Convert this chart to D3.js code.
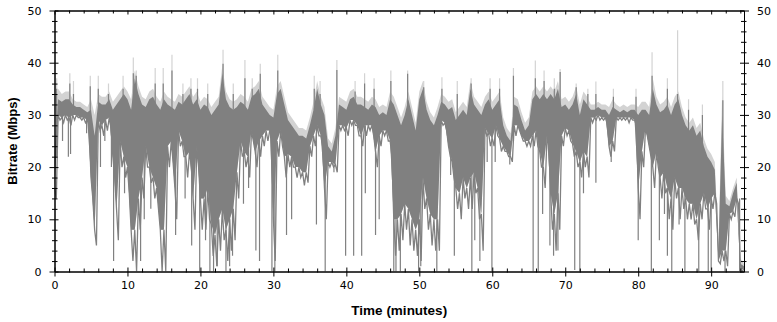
<!DOCTYPE html>
<html>
<head>
<meta charset="utf-8">
<script src="https://cdnjs.cloudflare.com/ajax/libs/d3/7.8.5/d3.min.js"></script>
<style>
body { margin: 0; background: #fff; }
</style>
</head>
<body>
<div id="chart"></div>
<script>
var step = 0.5
// top of the dark trace
var darkHi = [
  22, 33, 32.5, 33, 33, 32, 31.5, 31.5, 31, 30.5,
  31, 26, 32.5, 32, 32, 33, 31, 32, 33, 34,
  33, 31, 37, 34, 32, 31.5, 33, 33.5, 32, 31,
  33, 32, 31.5, 31, 32.5, 32, 33, 34, 32, 33,
  31, 32, 31.5, 30, 31, 32, 38, 33, 31.5, 31,
  31.5, 32.5, 32, 31, 33.5, 34, 35, 32, 31, 30,
  29.5, 34, 35, 32, 29, 28, 27, 26, 26, 25.5,
  28, 31, 35, 32, 30, 24, 23, 26, 32, 31.5,
  31, 33, 33.5, 32, 32, 31.5, 31, 32, 31.5, 30,
  30.5, 30, 33, 32, 30, 28, 30, 33, 30, 27,
  33, 35, 31, 29, 28, 30, 32.5, 32, 31, 31.5,
  29, 30, 31, 30, 35, 32, 31, 30, 32, 33,
  31, 32, 33, 28, 26, 25, 32, 31.5, 29, 27,
  28, 33, 34, 33, 34, 33, 34, 33, 35, 31.5,
  32, 31, 32, 34, 30, 33, 32, 31, 31, 31.5,
  31, 31, 30, 31.5, 31, 30.5, 31, 30.5, 31, 31,
  30, 31, 31, 30, 35, 32, 30.5, 31, 32, 30,
  32, 33, 30, 28, 27, 28, 26, 27, 24, 22,
  21, 19.5, 4, 30, 13, 12.5, 15, 17, 1.5, 1
]
// level down to which the dark trace is solid
var darkMid = [
  16, 30, 29.5, 30, 29.5, 30, 30, 29.5, 29.5, 29,
  18, 8, 29, 28, 29, 29.5, 22, 12, 25, 22,
  20, 8, 8, 14, 18, 24, 20, 18, 16, 8,
  8, 24, 25, 16, 27, 25, 22, 23, 14, 24,
  14, 14, 16, 9, 7, 10, 12, 8, 10, 12,
  19, 25, 23, 22, 27, 23, 25, 26, 27, 27,
  10, 25, 27, 22, 22.5, 22, 20, 20, 19, 19,
  24, 26, 28, 26, 16, 21, 21, 20.5, 28, 28,
  27.5, 29, 29, 28, 26, 28, 28, 28, 23, 26,
  27, 27, 25, 10, 10, 11, 13, 12, 10, 8,
  10, 18, 14, 11, 10, 10, 29, 28.5, 24, 21,
  16, 15, 18, 16, 18, 19, 16, 11, 27.5, 26.5,
  25.5, 28, 25.5, 24, 23, 22, 28, 28, 26, 25,
  25, 26, 27, 23, 20, 26, 15, 11, 15, 26,
  27.5, 27, 24.5, 23, 21, 23, 22, 29.5, 29.5, 30,
  29.5, 29.5, 24, 25, 29.5, 29.5, 29.5, 29.5, 29.5, 29,
  16, 23, 27.5, 24, 20, 23, 18, 19, 16, 14,
  18, 16, 16, 14, 13, 13, 10, 13, 15, 12,
  14, 15, 2, 4, 4, 11, 11.5, 14, 0.3, 0.5
]
// deepest extent of the dense drops
var darkLo = [
  14, 29, 28.5, 29, 28, 29, 29.5, 29, 28.5, 28,
  14, 5, 27, 26, 27, 27.5, 18, 6, 20, 18,
  15, 2, 0, 8, 14, 20, 17, 14, 12, 0,
  0, 20, 21, 10, 24, 22, 18, 20, 8, 20,
  8, 8, 10, 3, 1, 4, 6, 2, 4, 6,
  14, 22, 20, 18, 25, 20, 22, 24, 25, 26,
  2, 22, 24, 18, 20, 20, 18, 18, 16.5, 17,
  22, 24, 26, 24, 10, 20, 20, 19, 27, 27,
  26, 28, 28, 26, 24, 26, 27, 26, 20, 24,
  26, 25, 22, 3, 4, 6, 8, 5, 4, 3,
  2, 12, 8, 5, 4, 4, 28, 27, 22, 18,
  12, 10, 14, 12, 12, 15, 10, 4, 26, 24,
  24, 26, 23, 23, 22, 21, 26, 27, 25, 24,
  24, 24, 24, 20, 16, 24, 8, 4, 8, 24,
  26, 25, 22, 20, 18, 20, 18, 28.5, 29, 29,
  29, 28.5, 22, 23, 29, 29, 29, 28.5, 29, 28,
  10, 20, 26, 22, 16, 20, 14, 15, 10, 8,
  14, 10, 12, 10, 10, 9, 6, 10, 12, 8,
  12, 13, 1.5, 2, 1, 10, 10.5, 13, 0, 0.3
]
// top of the light (peak) trace
var lightHi = [
  24, 35, 34, 34.5, 34.5, 33, 32.5, 32.5, 32, 31.5,
  33, 30, 34, 33.5, 33.5, 34.5, 32.5, 33.5, 34.5, 35.5,
  34.5, 33, 38.5, 35.5, 33.5, 33, 34.5, 35, 33.5, 32.5,
  34.5, 33.5, 33, 32.5, 34, 33.5, 34.5, 35.5, 33.5, 34.5,
  32.5, 33.5, 33, 31.5, 32.5, 33.5, 39.5, 34.5, 33, 32.5,
  33, 34, 33.5, 32.5, 35, 35.5, 36.5, 33.5, 32.5, 31.5,
  31, 35.5, 36.5, 33.5, 30.5, 29.5, 28.5, 27.5, 27.5, 27,
  29.5, 32.5, 36.5, 33.5, 31.5, 25.5, 24.5, 27.5, 33.5, 33,
  32.5, 34.5, 35, 33.5, 33.5, 33, 32.5, 33.5, 33, 31.5,
  32, 31.5, 34.5, 33.5, 31.5, 29.5, 31.5, 34.5, 31.5, 28.5,
  34.5, 36.5, 32.5, 30.5, 29.5, 31.5, 34, 33.5, 32.5, 33,
  30.5, 31.5, 32.5, 31.5, 36.5, 33.5, 32.5, 31.5, 33.5, 34.5,
  32.5, 33.5, 34.5, 29.5, 27.5, 26.5, 33.5, 33, 30.5, 28.5,
  29.5, 34.5, 35.5, 34.5, 35.5, 34.5, 35.5, 34.5, 36.5, 33,
  33.5, 32.5, 33.5, 35.5, 32, 34.5, 33.5, 32, 32, 32.5,
  32, 32, 31.5, 33, 32, 31.5, 32, 31.5, 32, 32,
  31.5, 32.5, 32.5, 31.5, 37, 33.5, 32, 32.5, 33.5, 31.5,
  33.5, 34.5, 31.5, 29.5, 28.5, 29.5, 27.5, 28.5, 25.5, 23.5,
  22.5, 21, 5, 34, 14.5, 13.5, 16, 18, 2.5, 1.5
]
// sharp drops: [minute, Mbps]
var dips = [
  [1.1, 25], [1.9, 22], [2.2, 22.5], [4.4, 26.5], [6.3, 20], [6.9, 25], [7.8, 20], [8.1, 2],
  [9.6, 15], [11.8, 2], [12.3, 10], [13.2, 12], [16.6, 7], [17.9, 14], [18.8, 5], [19.9, 0],
  [20.7, 6], [21.3, 0], [21.8, 0], [22.3, 1], [23.5, 0], [24.0, 1], [24.4, 3], [25.9, 13],
  [26.6, 16], [27.6, 4], [28.1, 2], [29.8, 0], [30.2, 0], [31.8, 7], [32.5, 10], [35.9, 9],
  [37.1, 0], [38.3, 19], [39.9, 3], [41.0, 3], [42.1, 3], [42.6, 15], [44.0, 7], [44.5, 10],
  [46.5, 0], [46.8, 0], [47.4, 0], [49.9, 0], [50.2, 1], [52.4, 0], [54.3, 18.5], [54.8, 3],
  [57.2, 0], [57.6, 6], [58.3, 2], [59.3, 21], [59.95, 0], [60.4, 21], [62.4, 20.5], [65.6, 0],
  [66.3, 0], [66.9, 11], [67.9, 5], [68.4, 3], [69.0, 4], [71.3, 0.3], [72.0, 0], [72.5, 15],
  [74.2, 17], [76.3, 21], [80.0, 6], [81.8, 0], [82.9, 6], [83.6, 11], [84.0, 3], [84.6, 0],
  [85.6, 9], [86.4, 0], [88.3, 0], [89.6, 0], [90.0, 0], [91.9, 0], [93.9, 0]
]
// short bursts: [minute, dark Mbps, light Mbps]
var peaks = [
  [0.3, 35, 37], [2.1, 36, 38], [2.6, 34, 36.5], [4.9, 35.5, 37.5], [6.0, 35, 37.5], [7.4, 34, 36],
  [9.4, 35, 37.5], [10.8, 38, 41], [11.2, 37.5, 38.5], [13.8, 36, 39], [14.9, 36, 39], [16.1, 38.5, 41.5],
  [17.6, 34, 36], [18.7, 35, 37], [19.6, 35, 37], [21.0, 34, 36], [23.1, 39.8, 42.5], [24.5, 34, 36],
  [26.1, 37, 40.5], [27.1, 35, 37], [28.2, 37.9, 39.8], [30.6, 38.5, 41.5], [35.6, 35, 37.5], [36.4, 34, 36.5],
  [38.7, 38.6, 40.5], [41.2, 34.5, 36.5], [42.5, 36, 38], [43.8, 35, 37], [46.1, 36.5, 38.5], [48.4, 37.9, 38.5],
  [50.6, 35.3, 36.5], [53.1, 35, 37.2], [55.2, 34, 36.5], [57.1, 36, 37], [59.7, 35, 37], [61.0, 35, 37],
  [62.9, 37.5, 39], [65.9, 37, 40.4], [67.1, 36.5, 38.5], [68.5, 35, 37], [69.3, 38.2, 38.8], [71.5, 35.3, 36],
  [73.1, 34, 35], [74.2, 34, 36.4], [76.6, 33.5, 35], [79.7, 33.5, 35], [81.9, 37.5, 42], [84.0, 35, 37],
  [85.4, 34, 46.2], [86.9, 31, 33], [88.8, 30, 32], [91.6, 32.8, 36.5]
]
var xTicks = [0, 10, 20, 30, 40, 50, 60, 70, 80, 90]
var yTicks = [0, 10, 20, 30, 40, 50]

t()
function t() {
var dark = "#808080", light = "#d3d3d3"
var margin = { top: 10.5, right: 33, bottom: 50.5, left: 54.5 }
var width = 777 - margin.left - margin.right
var height = 322 - margin.top - margin.bottom

var svg = d3.select("#chart")
    .append("svg")
    .attr("width", 777)
    .attr("height", 322)

var x = d3.scaleLinear().domain([0, 94.5]).range([0, width])
var y = d3.scaleLinear().domain([0, 50]).range([height, 0])

var g = svg.append("g")
    .attr("transform", "translate(" + margin.left + "," + margin.top + ")")

g.append("clipPath").attr("id", "plot")
    .append("rect").attr("width", width).attr("height", height)

var samples = darkHi.map((h, i) => ({ t: i * step, hi: h, mid: darkMid[i], lo: darkLo[i], lt: lightHi[i] }))
function near(m, key, f) {
    var i = Math.floor(m / step), j = Math.min(i + 1, samples.length - 1)
    return f(samples[i][key], samples[j][key])
}

var plot = g.append("g").attr("clip-path", "url(#plot)")

// light peaks under everything
plot.append("path")
    .datum(samples)
    .attr("fill", light)
    .attr("d", d3.area().x(d => x(d.t)).y0(d => y(d.mid)).y1(d => y(d.lt)))

plot.selectAll(".peakLight").data(peaks).enter().append("line")
    .attr("x1", d => x(d[0])).attr("x2", d => x(d[0]))
    .attr("y1", d => y(near(d[0], "hi", Math.min))).attr("y2", d => y(d[2]))
    .attr("stroke", light).attr("stroke-width", 1.2)

// solid part of the trace
plot.append("path")
    .datum(samples)
    .attr("fill", dark)
    .attr("d", d3.area().x(d => x(d.t)).y0(d => y(d.mid)).y1(d => y(d.hi)))

// dense drops below the solid part: down to lo and back up each sample
var saw = []
samples.forEach(d => {
    saw.push([x(d.t), y(d.mid)])
    saw.push([x(d.t + step / 2), y(d.lo)])
})
plot.append("path")
    .attr("d", d3.line()(saw))
    .attr("fill", "none")
    .attr("stroke", dark)
    .attr("stroke-width", 1.3)

plot.selectAll(".peak").data(peaks).enter().append("line")
    .attr("x1", d => x(d[0])).attr("x2", d => x(d[0]))
    .attr("y1", d => y(near(d[0], "hi", Math.min))).attr("y2", d => y(d[1]))
    .attr("stroke", dark).attr("stroke-width", 1.2)

plot.selectAll(".dip").data(dips).enter().append("line")
    .attr("x1", d => x(d[0])).attr("x2", d => x(d[0]))
    .attr("y1", d => y(near(d[0], "mid", Math.max))).attr("y2", d => y(d[1]))
    .attr("stroke", dark).attr("stroke-width", 1.2)

// axes
var xMinor = d3.range(0, 95, 2).filter(d => d % 10 != 0)
var yMinor = d3.range(0, 51, 2).filter(d => d % 10 != 0)

function style(sel) {
    sel.attr("font-family", "DejaVu Sans, sans-serif").attr("font-size", 11)
    sel.selectAll("text").attr("fill", "#000")
    sel.selectAll("line").attr("stroke", "#000")
    sel.select(".domain").attr("stroke", "#000")
}

g.append("g")
    .attr("transform", "translate(0," + height + ")")
    .call(d3.axisBottom(x).tickValues(xTicks).tickSize(5).tickSizeOuter(0).tickPadding(5))
    .call(style)
    .call(a => a.selectAll(".tick line").attr("y1", -4))
g.append("g")
    .attr("transform", "translate(0," + height + ")")
    .call(d3.axisBottom(x).tickValues(xMinor).tickSize(1).tickSizeOuter(0).tickFormat(""))
    .call(style)
    .call(a => a.selectAll(".tick line").attr("y1", -3))

g.append("g")
    .call(d3.axisTop(x).tickValues(xTicks).tickSize(0).tickSizeOuter(0).tickFormat(""))
    .call(style)
    .call(a => a.selectAll(".tick line").attr("y1", 4))
g.append("g")
    .call(d3.axisTop(x).tickValues(xMinor).tickSize(0).tickSizeOuter(0).tickFormat(""))
    .call(style)
    .call(a => a.selectAll(".tick line").attr("y1", 3))

g.append("g")
    .call(d3.axisLeft(y).tickValues(yTicks).tickSize(5).tickSizeOuter(0).tickPadding(8))
    .call(style)
    .call(a => a.selectAll(".tick line").attr("x1", 4))
g.append("g")
    .call(d3.axisLeft(y).tickValues(yMinor).tickSize(2.5).tickSizeOuter(0).tickFormat(""))
    .call(style)
    .call(a => a.selectAll(".tick line").attr("x1", 3))

g.append("g")
    .attr("transform", "translate(" + width + ",0)")
    .call(d3.axisRight(y).tickValues(yTicks).tickSize(5).tickSizeOuter(0).tickPadding(8))
    .call(style)
    .call(a => a.selectAll(".tick line").attr("x1", -4))
g.append("g")
    .attr("transform", "translate(" + width + ",0)")
    .call(d3.axisRight(y).tickValues(yMinor).tickSize(2.5).tickSizeOuter(0).tickFormat(""))
    .call(style)
    .call(a => a.selectAll(".tick line").attr("x1", -3))

svg.append("text")
    .attr("x", margin.left + width / 2)
    .attr("y", 315)
    .attr("text-anchor", "middle")
    .attr("font-family", "Liberation Sans, Arial, sans-serif")
    .attr("font-weight", "bold")
    .attr("font-size", 13.5)
    .text("Time (minutes)")

svg.append("text")
    .attr("transform", "translate(17," + (margin.top + height / 2) + ") rotate(-90)")
    .attr("text-anchor", "middle")
    .attr("font-family", "Liberation Sans, Arial, sans-serif")
    .attr("font-weight", "bold")
    .attr("font-size", 13)
    .text("Bitrate (Mbps)")
}
</script>
</body>
</html>
